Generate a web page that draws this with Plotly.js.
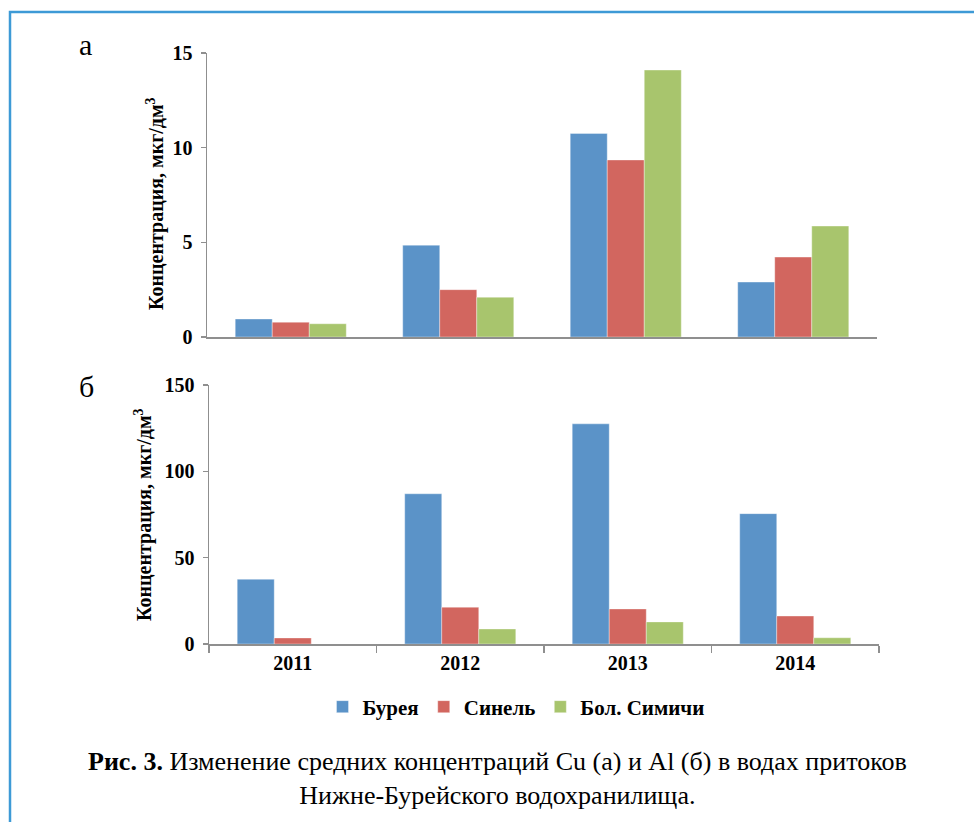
<!DOCTYPE html>
<html>
<head>
<meta charset="utf-8">
<script src="https://cdn.plot.ly/plotly-3.0.1.min.js"></script>
<style>
html,body{margin:0;padding:0;background:#fff;}
#chart{width:974px;height:822px;}
</style>
</head>
<body>
<div id="chart"></div>
<script>
// Data
var years = ['2011', '2012', '2013', '2014'];
var seriesNames = ['Бурея', 'Синель', 'Бол. Симичи'];
// (а) Cu, мкг/дм3
var cuBureya = [0.95, 4.85, 10.75, 2.9];
var cuSinel = [0.78, 2.5, 9.35, 4.22];
var cuSimichi = [0.7, 2.1, 14.1, 5.86];
// (б) Al, мкг/дм3
var alBureya = [37.5, 87, 127.5, 75.5];
var alSinel = [3.5, 21.3, 20.3, 16.2];
var alSimichi = [null, 8.7, 12.8, 3.6];
var yTicksCu = [0, 5, 10, 15];
var yTicksAl = [0, 50, 100, 150];

var colors = ['#5b93c8', '#d2665f', '#a8c56d'];
var W = 974, H = 822;
function px(x){return x / W;}
function py(y){return 1 - y / H;}

var serif = 'Liberation Serif, Times New Roman, serif';

function bar(x, y, name, i, xa, ya, legend){
  return {
    type: 'bar', x: x, y: y, name: name,
    xaxis: xa, yaxis: ya,
    marker: {color: colors[i], line: {color: 'rgba(255,255,255,0.6)', width: 0.6}},
    showlegend: legend, hoverinfo: 'skip'
  };
}

var data = [
  bar(years, cuBureya, seriesNames[0], 0, 'x', 'y', false),
  bar(years, cuSinel, seriesNames[1], 1, 'x', 'y', false),
  bar(years, cuSimichi, seriesNames[2], 2, 'x', 'y', false),
  bar(years, alBureya, seriesNames[0], 0, 'x2', 'y2', true),
  bar(years, alSinel, seriesNames[1], 1, 'x2', 'y2', true),
  bar(years, alSimichi, seriesNames[2], 2, 'x2', 'y2', true)
];

var tickFont = {family: serif, size: 20, color: '#000', weight: 'bold'};
var axisGrey = '#8f8f8f';

var yCommon = {
  showgrid: false, zeroline: false, showline: true,
  linecolor: axisGrey, linewidth: 1.5,
  ticks: 'outside', ticklen: 5, tickcolor: axisGrey, tickwidth: 1.5,
  tickfont: tickFont, ticklabelstandoff: 4, fixedrange: true
};

var layout = {
  width: W, height: H,
  margin: {l: 0, r: 0, t: 0, b: 0},
  paper_bgcolor: '#fff', plot_bgcolor: 'rgba(0,0,0,0)',
  barmode: 'group', bargap: 0.337, bargroupgap: 0,
  font: {family: serif, color: '#000'},
  xaxis: {
    domain: [px(207), px(877)], anchor: 'y',
    type: 'category', showgrid: false, zeroline: false,
    showline: true, linecolor: axisGrey, linewidth: 2,
    ticks: '', showticklabels: false, fixedrange: true
  },
  yaxis: Object.assign({}, yCommon, {
    domain: [py(337), py(53)], anchor: 'x',
    range: [0, 15], tickvals: yTicksCu, ticktext: yTicksCu.map(String)
  }),
  xaxis2: {
    domain: [px(209), px(879)], anchor: 'y2',
    type: 'category', showgrid: false, zeroline: false,
    showline: true, linecolor: axisGrey, linewidth: 2,
    ticks: 'outside', tickson: 'boundaries', ticklen: 7, tickcolor: axisGrey, tickwidth: 1.5,
    tickfont: tickFont, fixedrange: true
  },
  yaxis2: Object.assign({}, yCommon, {
    domain: [py(644), py(385)], anchor: 'x2',
    range: [0, 150], tickvals: yTicksAl, ticktext: yTicksAl.map(String)
  }),
  showlegend: true,
  legend: {
    orientation: 'h', x: px(516), xanchor: 'center', y: py(707), yanchor: 'middle',
    font: {family: serif, size: 21, color: '#000', weight: 'bold'},
    itemwidth: 30, tracegroupgap: 0, bgcolor: 'rgba(0,0,0,0)'
  },
  shapes: [{
    type: 'rect', xref: 'paper', yref: 'paper',
    x0: px(10), x1: 1.02, y0: -0.02, y1: py(12),
    line: {color: '#3d9ad6', width: 2.5}, layer: 'below'
  }],
  annotations: [
    {text: 'а', xref: 'paper', yref: 'paper', x: px(85), y: py(44), xanchor: 'center', yanchor: 'middle',
     showarrow: false, font: {family: serif, size: 30, color: '#000'}},
    {text: 'б', xref: 'paper', yref: 'paper', x: px(86), y: py(386), xanchor: 'center', yanchor: 'middle',
     showarrow: false, font: {family: serif, size: 30, color: '#000'}},
    {text: 'Концентрация, мкг/дм<sup>3</sup>', xref: 'paper', yref: 'paper', x: px(155), y: py(204),
     xanchor: 'center', yanchor: 'middle', textangle: -90, showarrow: false,
     font: {family: serif, size: 20, color: '#000', weight: 'bold'}},
    {text: 'Концентрация, мкг/дм<sup>3</sup>', xref: 'paper', yref: 'paper', x: px(143), y: py(515),
     xanchor: 'center', yanchor: 'middle', textangle: -90, showarrow: false,
     font: {family: serif, size: 20, color: '#000', weight: 'bold'}},
    {text: '<b>Рис. 3.</b> Изменение средних концентраций Cu (а) и Al (б) в водах притоков<br>Нижне-Бурейского водохранилища.',
     xref: 'paper', yref: 'paper', x: px(497), y: py(778), xanchor: 'center', yanchor: 'middle',
     align: 'center', showarrow: false,
     font: {family: serif, size: 26, color: '#000'}}
  ]
};

Plotly.newPlot('chart', data, layout, {displayModeBar: false, staticPlot: true});
</script>
</body>
</html>
